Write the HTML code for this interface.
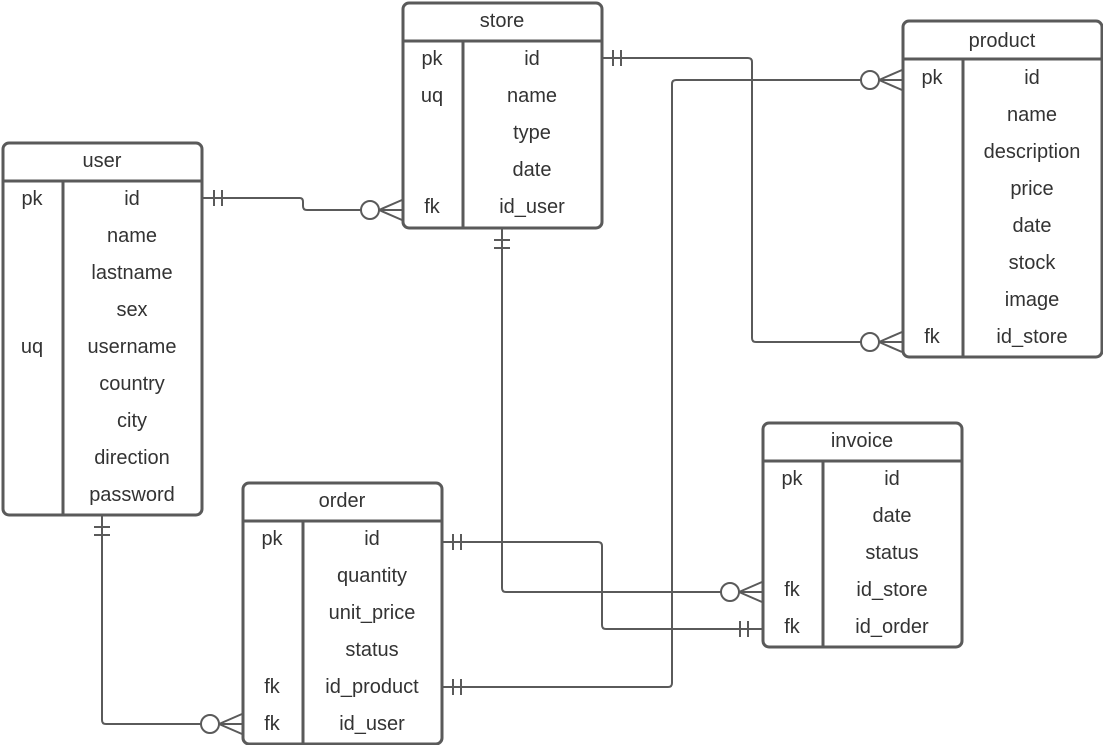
<!DOCTYPE html>
<html><head><meta charset="utf-8"><style>
html,body{margin:0;padding:0;background:#fff;}
svg text{font-family:"Liberation Sans",sans-serif;font-size:20px;fill:#333;text-anchor:middle;dominant-baseline:central;}
</style></head><body>
<svg width="1103" height="745" viewBox="0 0 1103 745" xmlns="http://www.w3.org/2000/svg">
<g fill="none" stroke="#5a5a5a" stroke-width="2">
<path d="M203,198 H300 Q303,198 303,202 V206 Q303,210 307,210 H402"/>
<path d="M214,190 V206 M222,190 V206"/>
<circle cx="370" cy="210" r="9" fill="#fff"/>
<path d="M379,210 L402,200 M379,210 L402,220 M379,210 H402"/>
<path d="M603,58 H748 Q752,58 752,62 V338 Q752,342 756,342 H902"/>
<path d="M613,50 V66 M621,50 V66"/>
<circle cx="870" cy="342" r="9" fill="#fff"/>
<path d="M879,342 L902,332 M879,342 L902,352 M879,342 H902"/>
<path d="M502,229 V588 Q502,592 506,592 H762"/>
<path d="M494,240 H510 M494,248 H510"/>
<circle cx="730" cy="592" r="9" fill="#fff"/>
<path d="M739,592 L762,582 M739,592 L762,602 M739,592 H762"/>
<path d="M443,542 H598 Q602,542 602,546 V625 Q602,629 606,629 H762"/>
<path d="M453,534 V550 M461,534 V550"/>
<path d="M740,621 V637 M748,621 V637"/>
<path d="M443,687 H668 Q672,687 672,683 V84 Q672,80 676,80 H902"/>
<path d="M453,679 V695 M461,679 V695"/>
<circle cx="870" cy="80" r="9" fill="#fff"/>
<path d="M879,80 L902,70 M879,80 L902,90 M879,80 H902"/>
<path d="M102,516 V720 Q102,724 106,724 H242"/>
<path d="M94,527 H110 M94,535 H110"/>
<circle cx="210" cy="724" r="9" fill="#fff"/>
<path d="M219,724 L242,714 M219,724 L242,734 M219,724 H242"/>
</g>
<g fill="#fff" stroke="#5a5a5a" stroke-width="3">
<rect x="403" y="3" width="199" height="225" rx="6"/>
<path d="M403,41 H602 M463,41 V228"/>
<rect x="903" y="21" width="199" height="336" rx="6"/>
<path d="M903,59 H1102 M963,59 V357"/>
<rect x="3" y="143" width="199" height="372" rx="6"/>
<path d="M3,181 H202 M63,181 V515"/>
<rect x="243" y="483" width="199" height="261" rx="6"/>
<path d="M243,521 H442 M303,521 V744"/>
<rect x="763" y="423" width="199" height="224" rx="6"/>
<path d="M763,461 H962 M823,461 V647"/>
</g>
<text x="502" y="21">store</text>
<text x="432" y="59">pk</text><text x="532" y="59">id</text>
<text x="432" y="96">uq</text><text x="532" y="96">name</text>
<text x="532" y="133">type</text>
<text x="532" y="170">date</text>
<text x="432" y="207">fk</text><text x="532" y="207">id_user</text>
<text x="1002" y="41">product</text>
<text x="932" y="78">pk</text><text x="1032" y="78">id</text>
<text x="1032" y="115">name</text>
<text x="1032" y="152">description</text>
<text x="1032" y="189">price</text>
<text x="1032" y="226">date</text>
<text x="1032" y="263">stock</text>
<text x="1032" y="300">image</text>
<text x="932" y="337">fk</text><text x="1032" y="337">id_store</text>
<text x="102" y="161">user</text>
<text x="32" y="199">pk</text><text x="132" y="199">id</text>
<text x="132" y="236">name</text>
<text x="132" y="273">lastname</text>
<text x="132" y="310">sex</text>
<text x="32" y="347">uq</text><text x="132" y="347">username</text>
<text x="132" y="384">country</text>
<text x="132" y="421">city</text>
<text x="132" y="458">direction</text>
<text x="132" y="495">password</text>
<text x="342" y="501">order</text>
<text x="272" y="539">pk</text><text x="372" y="539">id</text>
<text x="372" y="576">quantity</text>
<text x="372" y="613">unit_price</text>
<text x="372" y="650">status</text>
<text x="272" y="687">fk</text><text x="372" y="687">id_product</text>
<text x="272" y="724">fk</text><text x="372" y="724">id_user</text>
<text x="862" y="441">invoice</text>
<text x="792" y="479">pk</text><text x="892" y="479">id</text>
<text x="892" y="516">date</text>
<text x="892" y="553">status</text>
<text x="792" y="590">fk</text><text x="892" y="590">id_store</text>
<text x="792" y="627">fk</text><text x="892" y="627">id_order</text>
</svg>
</body></html>
